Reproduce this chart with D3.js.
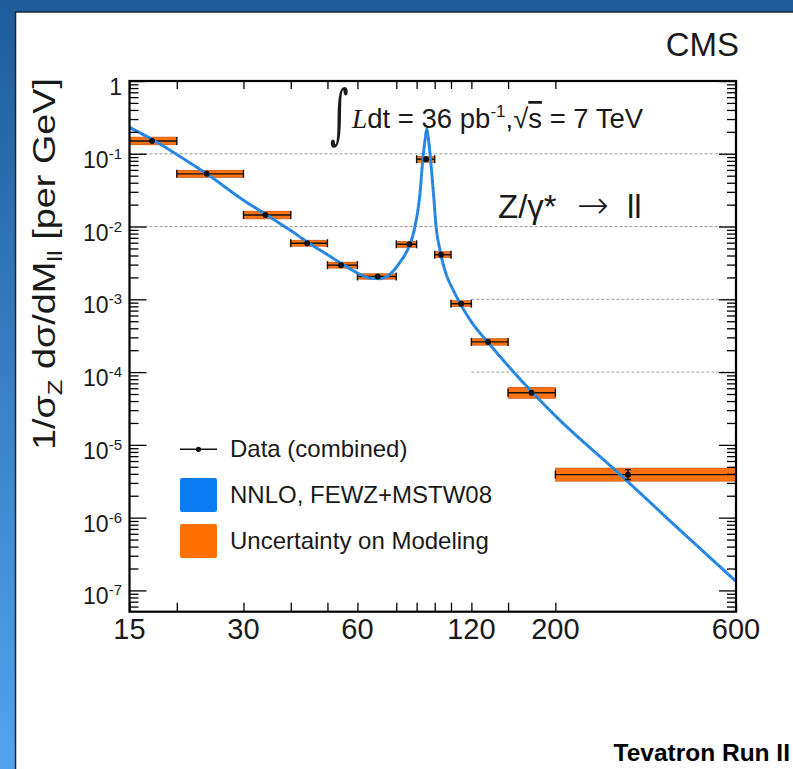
<!DOCTYPE html>
<html>
<head>
<meta charset="utf-8">
<script src="https://cdn.jsdelivr.net/npm/d3@7"></script>
<style>
    body { margin: 0; background: #ffffff; }
    svg { display: block; }
    .chart__text { font-family: "Liberation Sans", Arial, Helvetica, sans-serif; fill: #1a1a1a; }
    .chart__axis line { stroke: #000; stroke-width: 1.3; }
    .chart__axis path { display: none; }
</style>
</head>
<body>
<div class="chart"></div>
<script>
// bin edges on the mass axis (GeV), also used as x ticks
var binEdges = [15, 20, 30, 40, 50, 60, 76, 86, 96, 106, 120, 150, 200, 600];
// measured points: mean mass in each bin and 1/sigma dsigma/dM
var dataMass = [17.2, 24, 34.3, 44.2, 54.3, 67.9, 82.3, 91.1, 99.8, 112.7, 132.8, 173, 311];
var dataValues = [0.15, 0.053, 0.0144, 0.0059, 0.00295, 0.00206, 0.0057, 0.084, 0.0041, 0.00087, 0.00026, 0.000052, 0.0000039];
var modelErr = [0.13, 0.12, 0.13, 0.10, 0.10, 0.09, 0.10, 0.10, 0.10, 0.10, 0.11, 0.19, 0.23];
var statErr = [0.01, 0.01, 0.01, 0.02, 0.02, 0.02, 0.02, 0.01, 0.03, 0.04, 0.05, 0.08, 0.17];

// NNLO FEWZ+MSTW08 prediction
var theoryMass = [15, 17.5, 20, 24, 30, 34.5, 40, 44.5, 50, 54.5, 60, 65, 69, 73, 77.6, 82.6, 84.7, 87.5, 89.6, 90.6, 91.5, 92.4, 93.3, 95.6, 96.8, 99, 101, 103.3, 107, 112, 120, 133, 150, 173, 200, 300, 400, 600];
var theoryValues = [0.23, 0.15, 0.098, 0.053, 0.023, 0.0145, 0.0088, 0.006, 0.0041, 0.0031, 0.0023, 0.00195, 0.00192, 0.0022, 0.0032, 0.0057, 0.0088, 0.024, 0.1, 0.16, 0.22, 0.16, 0.1, 0.023, 0.01, 0.0049, 0.0031, 0.0021, 0.0014, 0.00088, 0.00049, 0.000253, 0.000122, 0.000054, 0.000025, 0.0000037, 0.00000092, 0.000000133];

var xLabels = [15, 30, 60, 120, 200, 600];
var yDecades = [0, -1, -2, -3, -4, -5, -6, -7];
// dashed reference lines: value and mass where they start
var gridValues = [0.1, 0.01, 0.001, 0.0001];
var gridStart = [15, 15, 120, 120];

var legendLabels = ['Data (combined)', 'NNLO, FEWZ+MSTW08', 'Uncertainty on Modeling'];

(function() {
    var options = {
        width: 793,
        height: 769,
        left: 129.5,
        right: 736,
        top: 81,
        bottom: 611.7,
        orange: '#ff7212',
        blue: '#2b8ce8'
    };

    var svg = d3.select('.chart')
        .append('svg')
        .attr('width', options.width)
        .attr('height', options.height);

    var defs = svg.append('defs');
    var grad = defs.append('linearGradient')
        .attr('id', 'slide-bg')
        .attr('x1', 0).attr('y1', 0).attr('x2', 0).attr('y2', 1);
    grad.append('stop').attr('offset', '0%').attr('stop-color', '#1e5c9a');
    grad.append('stop').attr('offset', '100%').attr('stop-color', '#50a5ee');

    defs.append('clipPath')
        .attr('id', 'plot-clip')
        .append('rect')
        .attr('x', options.left)
        .attr('y', options.top)
        .attr('width', options.right - options.left)
        .attr('height', options.bottom - options.top);

    // slide background and white panel
    svg.append('rect')
        .attr('width', options.width)
        .attr('height', options.height)
        .attr('fill', 'url(#slide-bg)');

    svg.append('rect')
        .attr('x', 15.5)
        .attr('y', 12)
        .attr('width', 820)
        .attr('height', 800)
        .attr('fill', '#ffffff')
        .attr('stroke', '#1b2430')
        .attr('stroke-width', 1.5);

    var x = d3.scaleLog()
        .domain([15, 600])
        .range([options.left, options.right]);

    var y = d3.scaleLog()
        .domain([5.1e-8, 1])
        .range([options.bottom, options.top]);

    var plot = svg.append('g');

    // dashed reference lines
    gridValues.forEach(function(v, i) {
        plot.append('line')
            .attr('x1', x(gridStart[i]))
            .attr('x2', options.right)
            .attr('y1', y(v))
            .attr('y2', y(v))
            .attr('stroke', '#9a9a9a')
            .attr('stroke-width', 1)
            .attr('stroke-dasharray', '3,2');
    });

    // modelling uncertainty boxes and data points
    var bins = plot.append('g').attr('clip-path', 'url(#plot-clip)');

    dataValues.forEach(function(v, i) {
        var x0 = x(binEdges[i]);
        var x1 = x(binEdges[i + 1]);
        var yHi = y(v * (1 + modelErr[i]));
        var yLo = y(v / (1 + modelErr[i]));
        var yc = y(v);

        bins.append('rect')
            .attr('x', x0)
            .attr('y', yHi)
            .attr('width', x1 - x0)
            .attr('height', yLo - yHi)
            .attr('fill', options.orange)
            .attr('stroke', '#b84a00')
            .attr('stroke-width', 0.6);

        bins.append('line')
            .attr('x1', x0).attr('x2', x1)
            .attr('y1', yc).attr('y2', yc)
            .attr('stroke', '#111')
            .attr('stroke-width', 1.4);

        [x0, x1].forEach(function(xe) {
            bins.append('line')
                .attr('x1', xe).attr('x2', xe)
                .attr('y1', yc - 4).attr('y2', yc + 4)
                .attr('stroke', '#111')
                .attr('stroke-width', 1.4);
        });
    });

    // prediction curve
    var line = d3.line()
        .x(function(d, i) { return x(theoryMass[i]); })
        .y(function(d) { return y(d); })
        .curve(d3.curveMonotoneX);

    plot.append('path')
        .attr('clip-path', 'url(#plot-clip)')
        .attr('d', line(theoryValues))
        .attr('fill', 'none')
        .attr('stroke', options.blue)
        .attr('stroke-width', 3);

    plot.append('path')
        .attr('clip-path', 'url(#plot-clip)')
        .attr('d', line(theoryValues))
        .attr('fill', 'none')
        .attr('stroke', '#1d4f8c')
        .attr('stroke-width', 1.6)
        .attr('stroke-linecap', 'round')
        .attr('stroke-dasharray', '0.1,7')
        .attr('opacity', 0.45);

    // data points with statistical error bars
    dataValues.forEach(function(v, i) {
        var xc = x(dataMass[i]);
        var yUp = y(v * (1 + statErr[i]));
        var yDn = y(v / (1 + statErr[i]));

        plot.append('line')
            .attr('x1', xc).attr('x2', xc)
            .attr('y1', yUp).attr('y2', yDn)
            .attr('stroke', '#111')
            .attr('stroke-width', 1.4);

        if (yDn - yUp > 6) {
            [yUp, yDn].forEach(function(ye) {
                plot.append('line')
                    .attr('x1', xc - 3).attr('x2', xc + 3)
                    .attr('y1', ye).attr('y2', ye)
                    .attr('stroke', '#111')
                    .attr('stroke-width', 1.4);
            });
        }

        plot.append('circle')
            .attr('cx', xc)
            .attr('cy', y(v))
            .attr('r', 3)
            .attr('fill', '#111');
    });

    // axes: ticks inside the frame on all four sides
    var yAll = y.ticks();
    var yMajor = yAll.filter(function(t) { return Math.abs(Math.log10(t) - Math.round(Math.log10(t))) < 1e-6; });
    var yMinor = yAll.filter(function(t) { return yMajor.indexOf(t) < 0; });

    var axes = svg.append('g');

    axes.append('g').classed('chart__axis', true)
        .attr('transform', 'translate(' + options.left + ', 0)')
        .call(d3.axisRight(y).tickValues(yMinor).tickSize(9).tickFormat(''));
    axes.append('g').classed('chart__axis', true)
        .attr('transform', 'translate(' + options.left + ', 0)')
        .call(d3.axisRight(y).tickValues(yMajor).tickSize(17).tickFormat(''));
    axes.append('g').classed('chart__axis', true)
        .attr('transform', 'translate(' + options.right + ', 0)')
        .call(d3.axisLeft(y).tickValues(yMinor).tickSize(9).tickFormat(''));
    axes.append('g').classed('chart__axis', true)
        .attr('transform', 'translate(' + options.right + ', 0)')
        .call(d3.axisLeft(y).tickValues(yMajor).tickSize(17).tickFormat(''));

    axes.append('g').classed('chart__axis', true)
        .attr('transform', 'translate(0, ' + options.bottom + ')')
        .call(d3.axisTop(x).tickValues(binEdges).tickSize(9).tickFormat(''));
    axes.append('g').classed('chart__axis', true)
        .attr('transform', 'translate(0, ' + options.top + ')')
        .call(d3.axisBottom(x).tickValues(binEdges).tickSize(8).tickFormat(''));

    axes.append('rect')
        .attr('x', options.left)
        .attr('y', options.top)
        .attr('width', options.right - options.left)
        .attr('height', options.bottom - options.top)
        .attr('fill', 'none')
        .attr('stroke', '#000')
        .attr('stroke-width', 2.2);

    // tick labels
    xLabels.forEach(function(m) {
        svg.append('text')
            .classed('chart__text', true)
            .attr('x', x(m))
            .attr('y', 639)
            .attr('text-anchor', 'middle')
            .style('font-size', '29px')
            .text(m);
    });

    yDecades.forEach(function(p) {
        var label = svg.append('text')
            .classed('chart__text', true)
            .attr('x', 122)
            .attr('y', y(Math.pow(10, p)) + 14)
            .attr('text-anchor', 'end')
            .style('font-size', '23px');

        if (p === 0) {
            label.text('1');
        } else {
            label.append('tspan').text('10');
            label.append('tspan')
                .attr('dy', -9)
                .style('font-size', '15px')
                .text(p);
        }
    });

    // y title, stretched along its length like the original slide
    var yTitle = svg.append('text')
        .classed('chart__text', true)
        .attr('transform', 'translate(55, 264) rotate(-90) scale(1.22, 1)')
        .attr('text-anchor', 'middle')
        .style('font-size', '31px');
    yTitle.append('tspan').text('1/σ');
    yTitle.append('tspan').attr('dy', 7).style('font-size', '21px').text('Z');
    yTitle.append('tspan').attr('dy', -7).text(' dσ/dM');
    yTitle.append('tspan').attr('dy', 7).style('font-size', '21px').text('ll');
    yTitle.append('tspan').attr('dy', -7).text(' [per GeV]');

    // annotations
    svg.append('text')
        .classed('chart__text', true)
        .attr('x', 739)
        .attr('y', 56)
        .attr('text-anchor', 'end')
        .style('font-size', '33px')
        .text('CMS');

    svg.append('text')
        .classed('chart__text', true)
        .attr('transform', 'translate(330, 136) scale(0.66, 1.2)')
        .style('font-family', '"DejaVu Serif", serif')
        .style('font-size', '54px')
        .text('∫');

    var lumi = svg.append('text')
        .classed('chart__text', true)
        .attr('x', 352)
        .attr('y', 128)
        .style('font-size', '27.5px');
    lumi.append('tspan')
        .style('font-family', '"Liberation Serif", serif')
        .style('font-style', 'italic')
        .text('L');
    lumi.append('tspan').text('dt = 36 pb');
    lumi.append('tspan').attr('dy', -11).style('font-size', '17px').text('-1');
    lumi.append('tspan').attr('dy', 11).text(',√');
    lumi.append('tspan').style('text-decoration', 'overline').text('s');
    lumi.append('tspan').text(' = 7 TeV');

    var decay = svg.append('text')
        .classed('chart__text', true)
        .attr('y', 218)
        .style('font-size', '33px');
    decay.append('tspan').attr('x', 498).text('Z/γ*');
    decay.append('tspan')
        .attr('x', 577)
        .style('font-family', '"DejaVu Sans", sans-serif')
        .style('font-weight', 200)
        .style('font-size', '38px')
        .text('→');
    decay.append('tspan').attr('x', 627).text('ll');

    // legend
    var legend = svg.append('g');
    var rowY = [449.3, 495, 541];

    legend.append('line')
        .attr('x1', 180).attr('x2', 217)
        .attr('y1', rowY[0]).attr('y2', rowY[0])
        .attr('stroke', '#111')
        .attr('stroke-width', 1.5);
    legend.append('circle')
        .attr('cx', 198.5).attr('cy', rowY[0])
        .attr('r', 2.6)
        .attr('fill', '#111');
    legend.append('rect')
        .attr('x', 180).attr('y', rowY[1] - 17)
        .attr('width', 37).attr('height', 34)
        .attr('rx', 2)
        .attr('fill', '#0b7cf2');
    legend.append('rect')
        .attr('x', 180).attr('y', rowY[2] - 17)
        .attr('width', 37).attr('height', 34)
        .attr('rx', 2)
        .attr('fill', '#ff7000');

    legendLabels.forEach(function(label, i) {
        legend.append('text')
            .classed('chart__text', true)
            .attr('x', 230)
            .attr('y', rowY[i] + 8)
            .style('font-size', '24px')
            .text(label);
    });

    svg.append('text')
        .classed('chart__text', true)
        .attr('x', 790)
        .attr('y', 761)
        .attr('text-anchor', 'end')
        .style('font-size', '24.5px')
        .style('font-weight', 'bold')
        .style('fill', '#000')
        .text('Tevatron Run II');
})();
</script>
</body>
</html>
